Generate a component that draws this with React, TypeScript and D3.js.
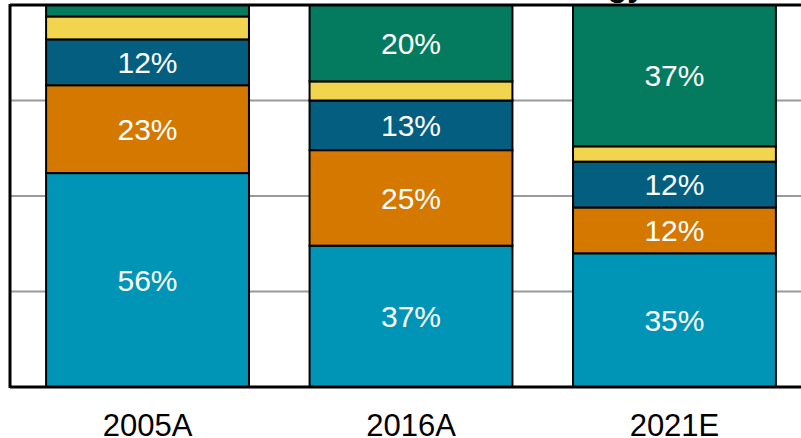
import React from 'react';
import * as d3 from 'd3';

// values (percent of total)
const years = ['2005A', '2016A', '2021E'];
const seriesKeys = ['s1', 's2', 's3', 's4', 's5'];
const s1 = [56, 37, 35];
const s2 = [23, 25, 12];
const s3 = [12, 13, 12];
const s4 = [6, 5, 4];
const s5 = [3, 20, 37];
const yTicks = [0, 25, 50, 75, 100];

const colors = ['#0095B6', '#D47800', '#035E80', '#F2D54F', '#047B5E'];

const W = 801;
const H = 438;

export default function App() {
  const rows = years.map((y, i) => ({
    year: y, s1: s1[i], s2: s2[i], s3: s3[i], s4: s4[i], s5: s5[i],
  }));
  const stacked = d3.stack<any>().keys(seriesKeys)(rows);

  const x = d3.scaleBand<string>()
    .domain(years)
    .range([10, 812])
    .paddingInner(0.23)
    .paddingOuter(0.137);

  const y = d3.scaleLinear().domain([0, 100]).range([387, 5]);

  return (
    <svg width={W} height={H} style={{ position: 'absolute', left: 0, top: 0 }}
      fontFamily="'Liberation Sans', Arial, sans-serif">
      <rect width={W} height={H} fill="#fff" />
      {/* title, mostly cut off */}
      <text x={645} y={-4} textAnchor="end" fontSize={32} fontWeight="bold" fill="#000">
        Global Energy
      </text>
      {/* gridlines */}
      {yTicks.filter(t => t > 0 && t < 100).map(t => (
        <line key={t} x1={10} x2={W} y1={y(t)} y2={y(t)} stroke="#9a9a9a" strokeWidth={2} />
      ))}
      {stacked.map((layer, li) => (
        <g key={layer.key}>
          {layer.map((d, i) => {
            const x0 = x(years[i])!;
            const top = y(d[1]);
            const bot = y(d[0]);
            const v = d[1] - d[0];
            return (
              <g key={years[i]}>
                <rect x={x0} y={top} width={x.bandwidth()} height={bot - top}
                  fill={colors[li]} stroke="#000" strokeWidth={2} />
                {v >= 10 && (
                  <text x={x0 + x.bandwidth() / 2} y={(top + bot) / 2} dy="0.36em"
                    textAnchor="middle" fontSize={30} fill="#fff">
                    {v}%
                  </text>
                )}
              </g>
            );
          })}
        </g>
      ))}
      {/* frame */}
      <line x1={10} x2={W} y1={5} y2={5} stroke="#000" strokeWidth={3} />
      <line x1={10} x2={10} y1={4} y2={388} stroke="#000" strokeWidth={3} />
      <line x1={10} x2={W} y1={387} y2={387} stroke="#000" strokeWidth={3} />
      {years.map(yr => (
        <text key={yr} x={x(yr)! + x.bandwidth() / 2} y={436} textAnchor="middle"
          fontSize={31} fill="#000">
          {yr}
        </text>
      ))}
    </svg>
  );
}
